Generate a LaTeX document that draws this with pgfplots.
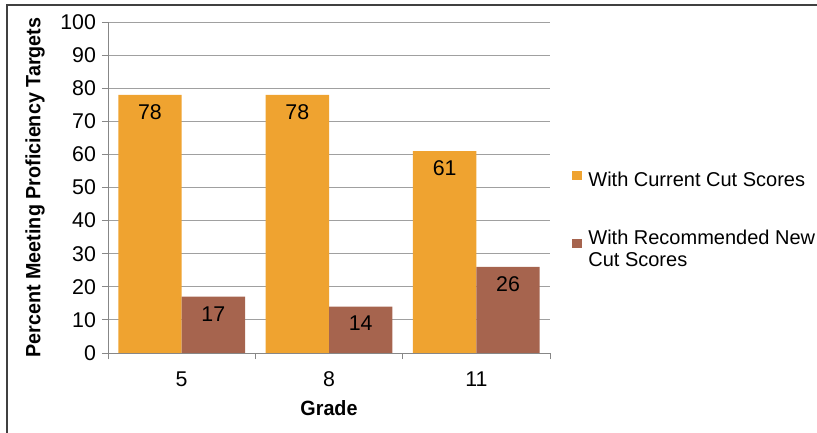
\documentclass[border=0pt]{standalone}
\usepackage{pgfplots}
\pgfplotsset{compat=1.18}
\usepackage{fontspec}
\setmainfont{Liberation Sans}
\newfontfamily\titlefont{Liberation Sans}[FakeStretch=0.955]
\definecolor{corange}{RGB}{239,163,48}
\definecolor{cbrown}{RGB}{166,100,78}
\definecolor{gridgray}{RGB}{160,160,160}
\definecolor{axgray}{RGB}{135,135,135}
\begin{document}
\begin{tikzpicture}
\useasboundingbox (0,0) rectangle (612.75pt,324pt);
\draw[color={rgb,255:red,64;green,64;blue,64}, line width=1.1pt] (5.25pt,-5pt) -- (5.25pt,320.25pt) -- (620pt,320.25pt);
\begin{axis}[
  at={(81pt,59.25pt)}, anchor=south west,
  scale only axis,
  width=331.5pt, height=248.25pt,
  ybar, bar width=0.43,
  xmin=-0.5, xmax=2.5,
  ymin=0, ymax=100,
  ytick={0,10,...,100},
  xtick={0,1,2},
  xticklabels={5,8,11},
  extra x ticks={-0.5,0.5,1.5,2.5},
  extra x tick labels={},
  extra x tick style={major tick length=4.5pt, tick align=outside, major x tick style={draw=axgray, line width=0.6pt}},
  major x tick style={draw=none},
  axis x line=bottom, axis y line=left,
  axis line style={draw=axgray, line width=0.6pt, -},
  tick align=outside,
  major tick length=4.5pt,
  major y tick style={draw=axgray, line width=0.6pt},
  ymajorgrids,
  grid style={draw=gridgray, line width=0.6pt},
  tick label style={font=\fontsize{16}{18}\selectfont},
  /pgf/number format/assume math mode=true,
  xticklabel style={yshift=-6pt},
  yticklabel style={xshift=-1pt},
  xlabel={\titlefont\bfseries Grade},
  ylabel={\titlefont\bfseries Percent Meeting Proficiency Targets},
  label style={font=\fontsize{15.5}{18}\selectfont},
  xlabel style={at={(axis description cs:0.5,-0.166)}, anchor=center},
  ylabel style={at={(axis description cs:-0.165,0.5)}, anchor=center},
  nodes near coords,
  every node near coord/.append style={anchor=center, yshift=-12.75pt, font=\fontsize{16}{18}\selectfont, text=black},
  legend style={at={(rel axis cs:1.05,0.40)}, anchor=west, draw=none, fill=none,
    font=\fontsize{15}{17}\selectfont, cells={align=left}, row sep=26.5pt, inner sep=0pt,
    /tikz/every odd column/.append style={column sep=3pt}},
  legend cell align=left,
  legend image code/.code={\fill[#1,draw=none] (0pt,0.6pt) rectangle (7pt,7.6pt);},
]
\addplot[fill=corange, draw=none, bar shift=-0.215] coordinates {(0,78) (1,78) (2,61)};
\addplot[fill=cbrown, draw=none, bar shift=0.215] coordinates {(0,17) (1,14) (2,26)};
\legend{With Current Cut Scores, With Recommended New\\Cut Scores}
\end{axis}
\end{tikzpicture}
\end{document}
